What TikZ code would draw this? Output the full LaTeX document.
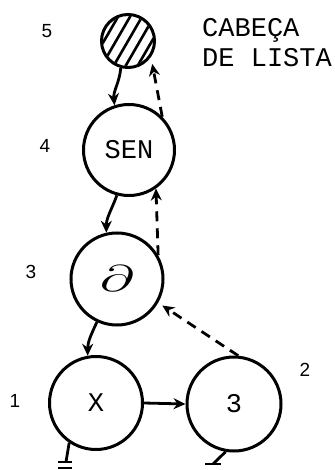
\documentclass[tikz,border=0pt]{standalone}
\usepackage{fontspec}
\setmonofont{Liberation Mono}
\setsansfont{Liberation Sans}
\usetikzlibrary{positioning, arrows.meta}

\begin{document}
\begin{tikzpicture}[x=1pt, y=-1pt,
  % Node Styles
  cnode/.style={circle, draw, line width=3pt, inner sep=0pt, font=\ttfamily\fontsize{27}{30}\selectfont},
  numlabel/.style={inner sep=0pt, font=\sffamily\fontsize{19}{20}\selectfont},
  textlabel/.style={inner sep=0pt, align=left, font=\ttfamily\fontsize{27}{30}\selectfont},
  % Arrow Styles
  solidarrow/.style={-{Stealth[length=12pt, width=11pt]}, line width=2.8pt},
  dashedarrow/.style={-{Stealth[length=12pt, width=11pt]}, line width=2.8pt, dash pattern=on 10pt off 7pt},
  groundline/.style={line width=2.8pt}
]
\useasboundingbox (0,0) rectangle (334,470);

% Cells
\node[cnode, minimum size=53pt] (n5) at (128,41) {};
\node[cnode, minimum size=91pt] (n4) at (129,150) {SEN};
\node[cnode, minimum size=92pt] (n3) at (117,279) {\scalebox{2.4}[1.5]{\Huge$\partial$}};
\node[cnode, minimum size=93pt] (n1) at (96,403) {X};
\node[cnode, minimum size=94pt] (n2) at (234,404) {3};

% Hatching of the head cell
\begin{scope}
  \clip (128,41) circle (25pt);
  \foreach \i in {-2,...,2}
    \draw[line width=2.6pt] (128+\i*12-22,41+38) -- (128+\i*12+22,41-38);
\end{scope}

% Numbers
\node[numlabel] (l5) at (47,31) {5};
\node[numlabel] (l4) at (45,146) {4};
\node[numlabel] (l3) at (31,272) {3};
\node[numlabel] (l1) at (15,401) {1};
\node[numlabel] (l2) at (305,370) {2};
\node[textlabel, anchor=north west] (head) at (202,18) {CABEÇA\\DE LISTA};

% Links
\draw[solidarrow] (n5.255) to[out=-95, in=95] (n4.108);
\draw[dashedarrow, shorten >=7pt] (n4.45) -- (n5.-35);
\draw[solidarrow] (n4.-105) to[out=-110, in=90] (n3.103);
\draw[dashedarrow] (n3.30) -- (n4.-55);
\draw[solidarrow] (n3.-115) to[out=-115, in=90] (n1.100);
\draw[dashedarrow, shorten >=5pt] (n2.85) -- (n3.-30);
\draw[solidarrow] (n1.east) -- (n2.west);

% Ground
\coordinate (g1) at (66,462);
\coordinate (g2) at (213,464);
\draw[groundline] (n1.-124) -- (g1);
\draw[groundline] (58,462) -- (72,462);
\draw[groundline] (58,468) -- (72,468);
\draw[groundline] (n2.-100) -- (g2);
\draw[groundline] (205,464) -- (221,464);

\end{tikzpicture}
\end{document}
